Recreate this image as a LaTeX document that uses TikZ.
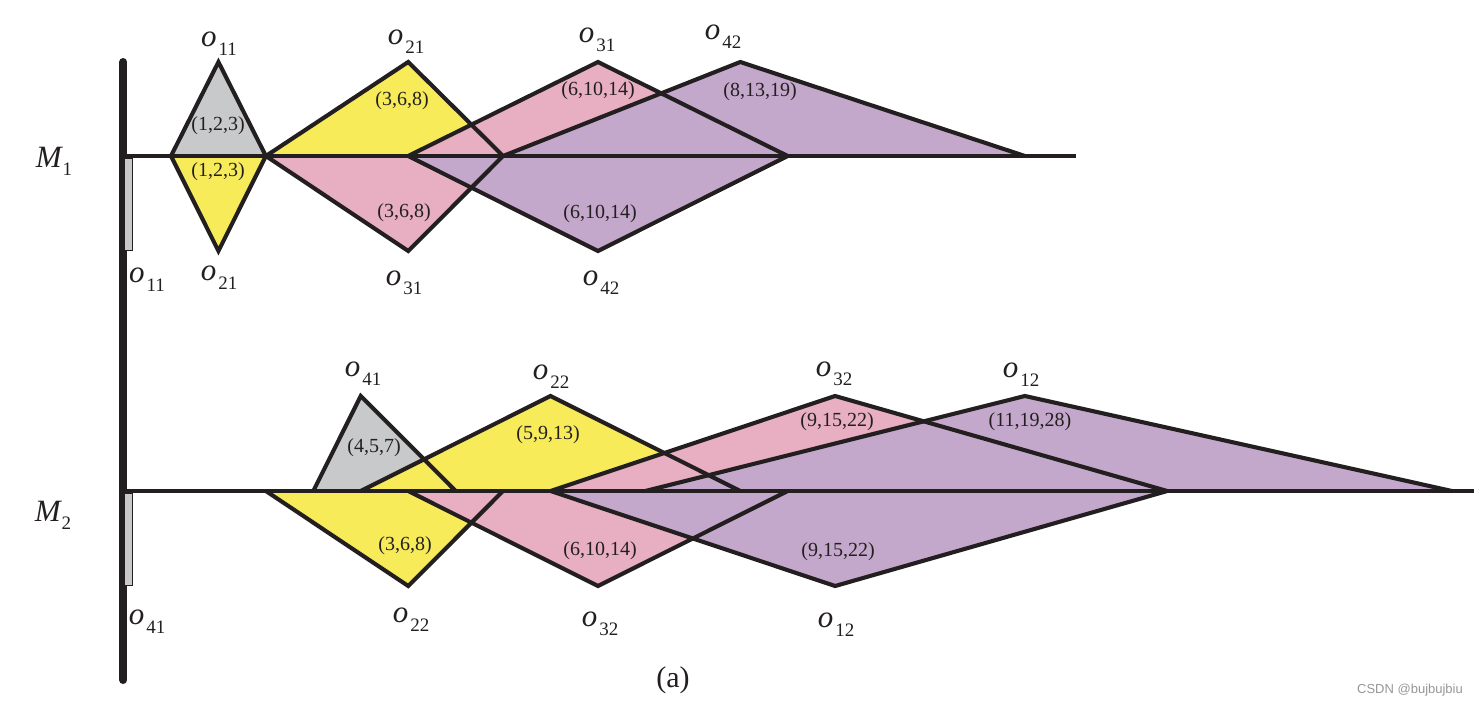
\documentclass[tikz,border=0pt]{standalone}
\usepackage{fontspec}
\setmainfont{Liberation Serif}
\newfontfamily\wmfont{Liberation Sans}
\definecolor{cgray}{RGB}{200,201,202}
\definecolor{cyel}{RGB}{247,235,90}
\definecolor{cpink}{RGB}{232,174,194}
\definecolor{cpurp}{RGB}{196,168,203}
\definecolor{cline}{RGB}{35,31,32}
\definecolor{wmgray}{RGB}{150,150,150}
\newcommand\olab[1]{{\fontsize{31}{31}\selectfont\itshape o}\kern2pt\raisebox{-9pt}{\fontsize{19}{19}\selectfont #1}}
\newcommand\mlab[1]{{\fontsize{31}{31}\selectfont\itshape M}\kern1pt\raisebox{-8pt}{\fontsize{19}{19}\selectfont #1}}
\newcommand\fzfill[6]{\fill[#1] (#2,#5) -- (#3,#6) -- (#4,#5) -- cycle;}
\newcommand\fzline[5]{\draw[triline] (#1,#4) -- (#2,#5) -- (#3,#4);}
\tikzset{
  triline/.style={draw=cline, line width=4.1pt, line join=miter},
  axisline/.style={draw=cline, line width=4.2pt},
  tup/.style={inner sep=0pt, font=\fontsize{20}{20}\selectfont, text=cline},
  olabel/.style={inner sep=0pt, text=cline},
  startbar/.style={fill=cgray, draw=cline, line width=1.2pt},
}
\begin{document}
\begin{tikzpicture}[x=1pt, y=-1pt]
\useasboundingbox (0,0) rectangle (1484,706);
% ---------- fills ----------
\begin{scope}[x=47.44pt, xshift=123.56pt]
  % M1 upper (completion)
  \fzfill{cgray}{1}{2}{3}{156}{62}
  \fzfill{cyel}{3}{6}{8}{156}{62}
  \fzfill{cpink}{6}{10}{14}{156}{62}
  \fzfill{cpurp}{8}{13}{19}{156}{62}
  % M1 lower (start)
  \fzfill{cyel}{1}{2}{3}{156}{251}
  \fzfill{cpink}{3}{6}{8}{156}{251}
  \fzfill{cpurp}{6}{10}{14}{156}{251}
  % M2 upper
  \fzfill{cgray}{4}{5}{7}{491}{396}
  \fzfill{cyel}{5}{9}{13}{491}{396}
  \fzfill{cpink}{9}{15}{22}{491}{396}
  \fzfill{cpurp}{11}{19}{28}{491}{396}
  % M2 lower
  \fzfill{cyel}{3}{6}{8}{491}{586}
  \fzfill{cpink}{6}{10}{14}{491}{586}
  \fzfill{cpurp}{9}{15}{22}{491}{586}
\end{scope}
% ---------- machine axis ----------
\coordinate (vtop) at (123.3,62);
\coordinate (vbot) at (123.3,680);
\draw[draw=cline, line width=8pt, line cap=round] (vtop) -- (vbot);
\coordinate (m1s) at (123.3,156);
\coordinate (m1e) at (1076,156);
\coordinate (m2s) at (123.3,491);
\coordinate (m2e) at (1474,491);
\draw[axisline] (m1s) -- (m1e);
\draw[axisline] (m2s) -- (m2e);
% ---------- outlines ----------
\begin{scope}[x=47.44pt, xshift=123.56pt]
  \fzline{1}{2}{3}{156}{62}
  \fzline{3}{6}{8}{156}{62}
  \fzline{6}{10}{14}{156}{62}
  \fzline{8}{13}{19}{156}{62}
  \fzline{1}{2}{3}{156}{251}
  \fzline{3}{6}{8}{156}{251}
  \fzline{6}{10}{14}{156}{251}
  \fzline{4}{5}{7}{491}{396}
  \fzline{5}{9}{13}{491}{396}
  \fzline{9}{15}{22}{491}{396}
  \fzline{11}{19}{28}{491}{396}
  \fzline{3}{6}{8}{491}{586}
  \fzline{6}{10}{14}{491}{586}
  \fzline{9}{15}{22}{491}{586}
\end{scope}
% start bars
\draw[startbar] (124.5,158.5) rectangle (132.5,250.5);
\draw[startbar] (124.5,493) rectangle (132.5,585.5);
% ---------- machine labels ----------
\node[olabel] (M1) at (54,161) {\mlab{1}};
\node[olabel] (M2) at (53,515) {\mlab{2}};
% ---------- M1 operation labels ----------
\node[olabel] (a1) at (219,44) {\olab{11}};
\node[olabel] (a2) at (406,42) {\olab{21}};
\node[olabel] (a3) at (597,40) {\olab{31}};
\node[olabel] (a4) at (723,37) {\olab{42}};
\node[olabel] (b1) at (147,280) {\olab{11}};
\node[olabel] (b2) at (219,278) {\olab{21}};
\node[olabel] (b3) at (404,283) {\olab{31}};
\node[olabel] (b4) at (601,283) {\olab{42}};
\node[tup] (t1) at (218,126) {(1,2,3)};
\node[tup] (t2) at (218,172) {(1,2,3)};
\node[tup] (t3) at (402,101) {(3,6,8)};
\node[tup] (t4) at (598,91) {(6,10,14)};
\node[tup] (t5) at (760,92) {(8,13,19)};
\node[tup] (t6) at (404,213) {(3,6,8)};
\node[tup] (t7) at (600,214) {(6,10,14)};
% ---------- M2 operation labels ----------
\node[olabel] (c1) at (363,374) {\olab{41}};
\node[olabel] (c2) at (551,377) {\olab{22}};
\node[olabel] (c3) at (834,374) {\olab{32}};
\node[olabel] (c4) at (1021,375) {\olab{12}};
\node[olabel] (d1) at (147,622) {\olab{41}};
\node[olabel] (d2) at (411,620) {\olab{22}};
\node[olabel] (d3) at (600,624) {\olab{32}};
\node[olabel] (d4) at (836,625) {\olab{12}};
\node[tup] (u1) at (374,448) {(4,5,7)};
\node[tup] (u2) at (548,435) {(5,9,13)};
\node[tup] (u3) at (837,422) {(9,15,22)};
\node[tup] (u4) at (1030,422) {(11,19,28)};
\node[tup] (u5) at (405,546) {(3,6,8)};
\node[tup] (u6) at (600,551) {(6,10,14)};
\node[tup] (u7) at (838,552) {(9,15,22)};
% caption
\node[olabel, font=\fontsize{30}{30}\selectfont] (cap) at (673,680) {(a)};
\node[inner sep=0pt, text=wmgray, font=\wmfont\fontsize{13}{13}\selectfont] (wm) at (1410,690) {CSDN @bujbujbiu};
\end{tikzpicture}
\end{document}
